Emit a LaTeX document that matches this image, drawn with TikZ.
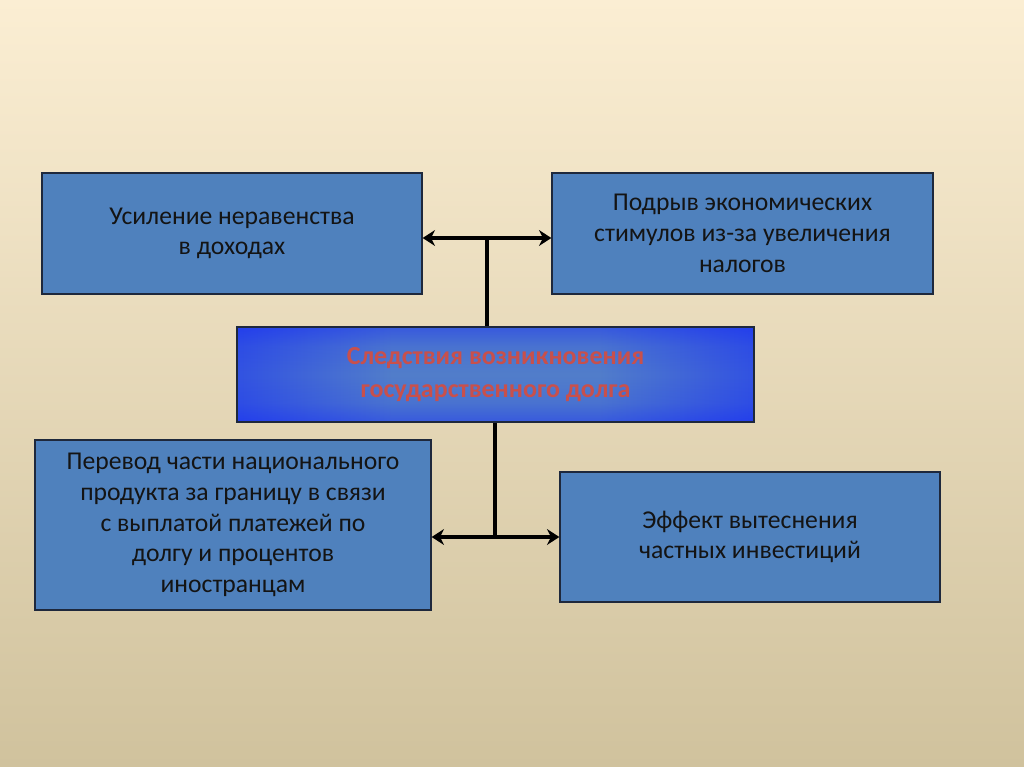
\documentclass[tikz,border=0pt]{standalone}
\usepackage{fontspec}
\setmainfont{Carlito}
\usepackage{xcolor}
\usepackage{tikz}
\usetikzlibrary{arrows.meta,fadings}
\usetikzlibrary{positioning}
\definecolor{bgtop}{RGB}{251,238,211}
\definecolor{bgbottom}{RGB}{208,194,157}
\definecolor{boxblue}{RGB}{79,129,189}
\definecolor{boxline}{RGB}{30,40,60}
\definecolor{coreblue}{RGB}{82,126,202}
\definecolor{edgeblue}{RGB}{10,28,255}
\definecolor{corered}{RGB}{200,80,76}
\definecolor{textdark}{RGB}{20,20,20}
\pgfdeclarehorizontalshading{coreband}{100bp}{%
  color(0bp)=(edgeblue); color(6bp)=(edgeblue); color(40bp)=(coreblue);
  color(60bp)=(coreblue); color(94bp)=(edgeblue); color(100bp)=(edgeblue)}
\pgfdeclareverticalshading{coreedgeshade}{100bp}{%
  color(0bp)=(pgftransparent!5); color(12bp)=(pgftransparent!30);
  color(35bp)=(pgftransparent!88); color(50bp)=(pgftransparent!100);
  color(65bp)=(pgftransparent!88); color(88bp)=(pgftransparent!30);
  color(100bp)=(pgftransparent!5)}
\pgfdeclarefading{coreedge}{\pgfuseshading{coreedgeshade}}

\begin{document}
\begin{tikzpicture}[x=0.02cm,y=-0.02cm,
    infobox/.style={draw=boxline, line width=0.8pt, fill=boxblue, text=textdark,
        align=center, inner sep=0pt, font=\fontsize{14.6}{17.5}\selectfont},
    corebox/.style={draw=boxline, line width=1.2pt, shading=coreband,
        path picture={\fill[edgeblue, path fading=coreedge]
            (path picture bounding box.south west) rectangle (path picture bounding box.north east);},
        text=corered, align=center,
        inner sep=0pt, font=\bfseries\fontsize{14.8}{18.6}\selectfont},
    link/.style={line width=2.3pt, black},
    twoway/.style={link, {Stealth[length=7pt,width=9pt]}-{Stealth[length=7pt,width=9pt]}}]
            \shade[top color=bgtop, bottom color=bgbottom] (0,0) rectangle (1024,767);
            \useasboundingbox (0,0) rectangle (1024,767);
            % central box
            \node[corebox, minimum width=10.34cm, minimum height=1.9cm] (core) at (495.5,374.5)
                {Следствия возникновения\\государственного долга};
            % upper pair
            \node[infobox, minimum width=7.6cm, minimum height=2.42cm] (inequality) at (232,233.5)
                {Усиление неравенства\\в доходах};
            \node[infobox, minimum width=7.62cm, minimum height=2.42cm] (incentive) at (742.5,233.5)
                {Подрыв экономических\\стимулов из-за увеличения\\налогов};
            % lower pair
            \node[infobox, minimum width=7.92cm, minimum height=3.4cm] (transfer) at (233,525)
                {Перевод части национального\\продукта за границу в связи\\с выплатой платежей по\\долгу и процентов\\иностранцам};
            \node[infobox, minimum width=7.6cm, minimum height=2.6cm] (crowding) at (750,537)
                {Эффект вытеснения\\частных инвестиций};
            % connectors
            \coordinate (topjoint) at (487,238);
            \coordinate (lowjoint) at (495,537);
            \draw[twoway] (inequality.east |- topjoint) -- (incentive.west |- topjoint);
            \draw[link] (topjoint) -- (topjoint |- core.north);
            \draw[twoway] (transfer.east |- lowjoint) -- (crowding.west |- lowjoint);
            \draw[link] (lowjoint |- core.south) -- (lowjoint);
\end{tikzpicture}
\end{document}
